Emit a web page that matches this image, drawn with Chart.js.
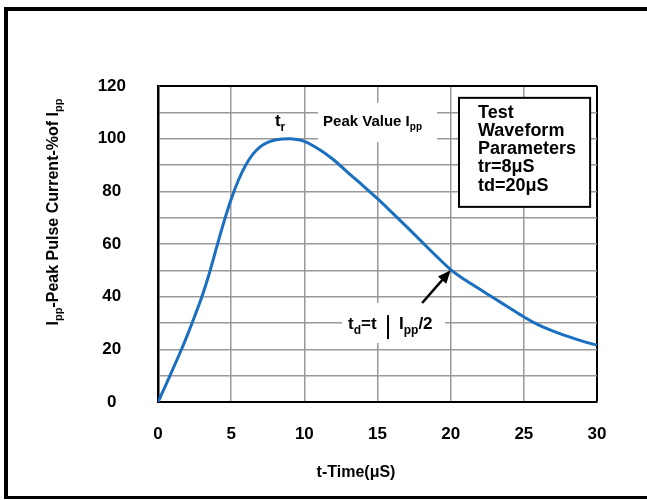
<!DOCTYPE html>
<html><head><meta charset="utf-8">
<script src="https://cdn.jsdelivr.net/npm/chart.js@4"></script>
<style>html,body{margin:0;padding:0;background:#fff}</style>
</head><body>
<canvas id="c" width="647" height="500"></canvas>
<script>
// ---- data ----
const timeUs = [0,0.5,1,1.5,2,2.5,3,3.5,4,4.5,5,5.5,6,6.5,7,7.5,8,8.5,9,9.5,10,11,12,13,14,15,16,17,18,19,20,21,22,23,24,25,26,27,28,29,30];
const currentPct = [0,6,12.3,18.6,25.3,32.5,40,48.7,58.6,68.3,77,84.3,90,94.2,97,98.6,99.5,99.9,100,99.7,99,96,92,87,82.2,77.2,71.9,66.5,61,55.5,50.3,46.3,42.8,39.3,35.8,32.3,29.3,26.9,24.9,23.1,21.6];
const xTickValues = [0,5,10,15,20,25,30];
const yTickLabels = [0,20,40,60,80,100,120];
const xTitle = 't-Time(μS)';
const yTitleParts = [['I',0],['pp',1],['-Peak Pulse Current-%of I',0],['pp',1]];
const boxLines = ['Test','Waveform','Parameters','tr=8μS','td=20μS'];
const peakLabel = [['Peak Value I',0],['pp',1]];
const trLabel = [['t',0],['r',1]];
const tdLeft = [['t',0],['d',1],['=t',0]];
const tdRight = [['I',0],['pp',1],['/2',0]];

const FONT = '"Liberation Sans", Arial, Helvetica, sans-serif';

function richWidth(ctx, parts, size){
  let w = 0;
  for (const [t, sub] of parts){
    ctx.font = 'bold ' + (sub ? Math.round(size*0.68) : size) + 'px ' + FONT;
    w += ctx.measureText(t).width;
  }
  return w;
}
function drawRich(ctx, parts, x, y, size, align){
  const w = richWidth(ctx, parts, size);
  let cx = align === 'center' ? x - w/2 : x;
  ctx.textAlign = 'left';
  ctx.textBaseline = 'alphabetic';
  for (const [t, sub] of parts){
    ctx.font = 'bold ' + (sub ? Math.round(size*0.68) : size) + 'px ' + FONT;
    ctx.fillText(t, cx, sub ? y + size*0.28 : y);
    cx += ctx.measureText(t).width;
  }
}

const annot = {
  id: 'annot',
  beforeDatasetsDraw(chart){
    const {ctx, scales:{x, y}} = chart;
    ctx.save();
    ctx.fillStyle = '#fff';
    const rect = (x0,y0,x1,y1)=>{
      const px0=x.getPixelForValue(x0), px1=x.getPixelForValue(x1);
      const py0=y.getPixelForValue(y0), py1=y.getPixelForValue(y1);
      ctx.fillRect(px0, py0, px1-px0, py1-py0);
    };
    rect(10.94,113.6,19.07,98.7);
    rect(12.58,37.6,19.62,22.4);
    ctx.restore();
  },
  afterDraw(chart){
    const {ctx, scales:{x, y}} = chart;
    ctx.save();
    ctx.fillStyle = '#000';
    ctx.strokeStyle = '#000';
    // Test box
    const bx0=x.getPixelForValue(20.57), bx1=x.getPixelForValue(29.53);
    const by0=y.getPixelForValue(115.5), by1=y.getPixelForValue(74.1);
    ctx.fillStyle='#fff';
    ctx.fillRect(bx0,by0,bx1-bx0,by1-by0);
    ctx.lineWidth=2;
    ctx.strokeRect(bx0,by0,bx1-bx0,by1-by0);
    ctx.fillStyle='#000';
    ctx.font = 'bold 18px ' + FONT;
    ctx.textAlign='left'; ctx.textBaseline='alphabetic';
    boxLines.forEach((s,i)=> ctx.fillText(s, x.getPixelForValue(21.87), by0 + 20 + i*18.2));
    // labels
    drawRich(ctx, trLabel, x.getPixelForValue(8.34), y.getPixelForValue(107)+6, 17, 'center');
    drawRich(ctx, peakLabel, x.getPixelForValue(11.28), y.getPixelForValue(106.7)+5, 15, 'left');
    drawRich(ctx, tdLeft, x.getPixelForValue(12.99), y.getPixelForValue(30)+6, 17, 'left');
    drawRich(ctx, tdRight, x.getPixelForValue(16.47), y.getPixelForValue(30)+6, 17, 'left');
    // bar
    ctx.lineWidth=2;
    ctx.beginPath();
    ctx.moveTo(x.getPixelForValue(15.72), y.getPixelForValue(33));
    ctx.lineTo(x.getPixelForValue(15.72), y.getPixelForValue(23.9));
    ctx.stroke();
    // arrow
    const ax0=x.getPixelForValue(18.05), ay0=y.getPixelForValue(37.6);
    const ax1=x.getPixelForValue(20.0), ay1=y.getPixelForValue(50.0);
    const ang=Math.atan2(ay1-ay0, ax1-ax0);
    ctx.lineWidth=2.5;
    ctx.beginPath(); ctx.moveTo(ax0,ay0);
    ctx.lineTo(ax1-9*Math.cos(ang), ay1-9*Math.sin(ang)); ctx.stroke();
    ctx.beginPath();
    ctx.moveTo(ax1,ay1);
    ctx.lineTo(ax1-13*Math.cos(ang)+5.5*Math.sin(ang), ay1-13*Math.sin(ang)-5.5*Math.cos(ang));
    ctx.lineTo(ax1-13*Math.cos(ang)-5.5*Math.sin(ang), ay1-13*Math.sin(ang)+5.5*Math.cos(ang));
    ctx.closePath(); ctx.fill();
    // axis titles
    ctx.font = 'bold 16px ' + FONT;
    ctx.textAlign='center'; ctx.textBaseline='alphabetic';
    ctx.fillText(xTitle, 356, 477);
    ctx.save();
    ctx.translate(58, 212);
    ctx.rotate(-Math.PI/2);
    drawRich(ctx, yTitleParts, 0, 0, 16, 'center');
    ctx.restore();
    // outer frame
    ctx.fillStyle='#000';
    ctx.fillRect(4,7,4,492);
    ctx.fillRect(4,7,643,4);
    ctx.fillRect(4,496,643,3);
    ctx.restore();
  }
};

new Chart(document.getElementById('c'), {
  type: 'line',
  data: { datasets: [{
    data: timeUs.map((t,i)=>({x:t, y:currentPct[i]})),
    borderColor: '#1a6fc0', borderWidth: 3, pointRadius: 0,
    cubicInterpolationMode: 'monotone', fill: false
  }]},
  options: {
    responsive: false, animation: false, devicePixelRatio: 1,
    layout: { padding: { top: 86, right: 50, left: 0, bottom: 0 } },
    plugins: { legend: { display: false }, tooltip: { enabled: false } },
    scales: {
      x: {
        type: 'linear', min: 0, max: 30,
        afterBuildTicks: s => { s.ticks = xTickValues.map(v => ({ value: v })); },
        grid: {
          color: c => (c.tick && c.tick.value === 30) ? '#000' : '#999',
          lineWidth: c => (c.tick && c.tick.value === 30) ? 2 : 1.5,
          drawTicks: false
        },
        border: { color: '#000', width: 2 },
        ticks: { autoSkip: false, maxRotation: 0, padding: 22, color: '#000',
          font: { size: 17, weight: 'bold', family: FONT } },
        afterFit: s => { s.height = 98; }
      },
      y: {
        min: 0, max: 120,
        grid: {
          color: c => (c.tick && c.tick.value === 120) ? '#000' : '#999',
          lineWidth: c => (c.tick && c.tick.value === 120) ? 2 : 1.5,
          drawTicks: false
        },
        border: { color: '#000', width: 2.5 },
        ticks: { stepSize: 10, autoSkip: false, padding: 32, crossAlign: 'center', color: '#000',
          callback: v => yTickLabels.includes(v) ? String(v) : '',
          font: { size: 17, weight: 'bold', family: FONT } },
        afterFit: s => { s.width = 158; }
      }
    }
  },
  plugins: [annot]
});
</script>
</body></html>
